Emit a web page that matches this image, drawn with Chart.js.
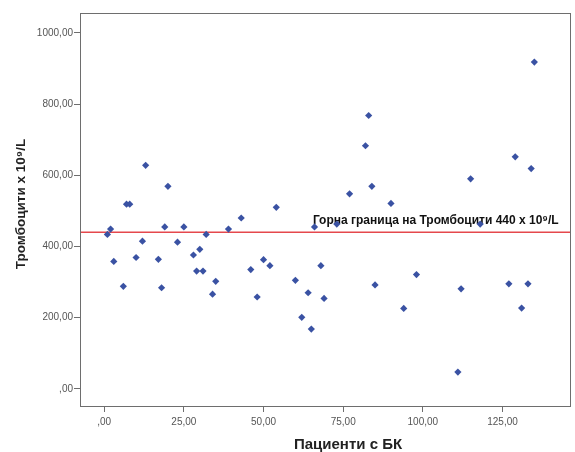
<!DOCTYPE html>
<html>
<head>
<meta charset="utf-8">
<script src="https://cdn.jsdelivr.net/npm/chart.js@4/dist/chart.umd.min.js"></script>
<style>
  html, body { margin: 0; padding: 0; background: #fff; }
  #wrap { width: 575px; height: 452px; position: relative; }
</style>
</head>
<body>
<div id="wrap"><canvas id="c"></canvas></div>
<script>
// Пациенти (номер) и тромбоцити x 10^9/L
const patients = [1, 2, 3, 6, 7, 8, 10, 12, 13, 17, 18, 19, 20, 23, 25, 28, 29, 30, 31, 32,
    34, 35, 39, 43, 46, 48, 50, 52, 54, 60, 62, 64, 65, 66, 68, 69, 73, 77, 82, 83,
    84, 85, 90, 94, 98, 111, 112, 115, 118, 127, 129, 131, 133, 134, 135];
const platelets = [434, 449, 358, 288, 519, 519, 369, 415, 628, 364, 284, 455, 569, 412, 455, 376, 331, 392, 331, 434,
    266, 302, 449, 480, 335, 258, 363, 346, 510, 305, 201, 270, 168, 455, 346, 254, 463, 548, 683, 768,
    569, 292, 521, 226, 321, 47, 281, 590, 463, 295, 652, 227, 295, 619, 918];

const xTicks = [0, 25, 50, 75, 100, 125];
const yTicks = [0, 200, 400, 600, 800, 1000];
const upperLimit = 440;

const xTitle = 'Пациенти с БК';
const yTitle = 'Тромбоцити x 10⁹/L';
const limitLabel = 'Горна граница на Тромбоцити 440 x 10⁹/L';

const fmt = (v) => (v === 0 ? ',00' : v + ',00');
const FONT = '"Liberation Sans", Arial, sans-serif';

const framePlugin = {
    id: 'frame',
    beforeDatasetsDraw(chart) {
        // reference line + label, under the points
        const { ctx, chartArea: a, scales } = chart;
        ctx.save();
        const yl = scales.y.getPixelForValue(upperLimit);
        ctx.strokeStyle = '#e5484d';
        ctx.lineWidth = 1.5;
        ctx.beginPath();
        ctx.moveTo(a.left, yl);
        ctx.lineTo(a.right, yl);
        ctx.stroke();
        ctx.fillStyle = '#111';
        ctx.font = 'bold 12px ' + FONT;
        ctx.textBaseline = 'middle';
        ctx.textAlign = 'left';
        ctx.fillText(limitLabel, scales.x.getPixelForValue(65.5), yl - 12);
        ctx.restore();
    },
    afterDatasetsDraw(chart) {
        const { ctx, chartArea: a } = chart;
        ctx.save();
        // frame
        ctx.strokeStyle = '#6e6e6e';
        ctx.lineWidth = 1;
        ctx.strokeRect(a.left + 0.5, a.top + 0.5, a.right - a.left - 1, a.bottom - a.top - 1);
        // axis titles
        ctx.fillStyle = '#222';
        ctx.font = 'bold 15px ' + FONT;
        ctx.textAlign = 'center';
        ctx.textBaseline = 'middle';
        ctx.fillText(xTitle, 348, 445);
        ctx.font = 'bold 13.5px ' + FONT;
        ctx.translate(21, 204);
        ctx.rotate(-Math.PI / 2);
        ctx.fillText(yTitle, 0, 0);
        ctx.restore();
    }
};

new Chart(document.getElementById('c'), {
    type: 'scatter',
    data: {
        datasets: [{
            data: patients.map((p, i) => ({ x: p, y: platelets[i] })),
            pointStyle: 'rectRot',
            pointRadius: 3.6,
            pointBackgroundColor: '#3a52a3',
            pointBorderWidth: 0,
        }],
    },
    options: {
        responsive: true,
        maintainAspectRatio: false,
        animation: false,
        layout: { padding: { top: 13, right: 3, left: 0, bottom: 0 } },
        plugins: { legend: { display: false }, tooltip: { enabled: false } },
        scales: {
            x: {
                min: -7.6,
                max: 146.5,
                afterBuildTicks: (s) => { s.ticks = xTicks.map(v => ({ value: v })); },
                afterFit: (s) => { s.height = 45; },
                ticks: {
                    color: '#555',
                    font: { size: 10, family: FONT },
                    padding: 4,
                    maxRotation: 0,
                    callback: fmt,
                },
                grid: { drawOnChartArea: false, drawTicks: true, tickLength: 5, color: '#6e6e6e' },
                border: { display: false },
            },
            y: {
                min: -51,
                max: 1056,
                afterBuildTicks: (s) => { s.ticks = yTicks.map(v => ({ value: v })); },
                afterFit: (s) => { s.width = 80; },
                ticks: {
                    color: '#555',
                    font: { size: 10, family: FONT },
                    padding: 1,
                    callback: fmt,
                },
                grid: { drawOnChartArea: false, drawTicks: true, tickLength: 6, color: '#6e6e6e' },
                border: { display: false },
            },
        },
    },
    plugins: [framePlugin],
});
</script>
</body>
</html>
